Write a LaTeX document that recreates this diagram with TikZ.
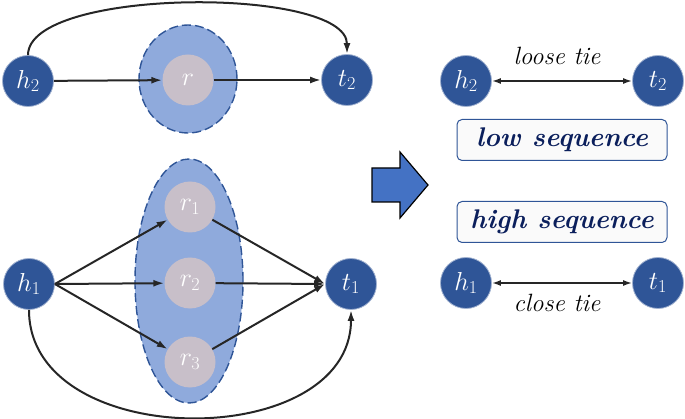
\RequirePackage{fix-cm}
\documentclass[tikz,border=0pt]{standalone}
\usepackage{fontspec}
\usepackage{tikz}
\usetikzlibrary{shapes.geometric,arrows.meta}
\definecolor{entblue}{HTML}{2F5597}
\definecolor{setblue}{HTML}{8FAADC}
\definecolor{relgray}{HTML}{C8BFC9}
\definecolor{arrblue}{HTML}{4472C4}
\definecolor{seqtext}{HTML}{0B1F5C}

\begin{document}
\begin{tikzpicture}[x=1pt,y=1pt,
    ent/.style={circle,fill=entblue,draw=entblue!45,line width=0.8pt,minimum size=51pt,inner sep=0pt,text=white,font=\fontsize{26}{30}\selectfont},
    rel/.style={circle,fill=relgray,minimum size=51pt,inner sep=0pt,text=white,font=\fontsize{26}{30}\selectfont},
    relset/.style={ellipse,fill=setblue,draw=entblue,line width=1.4pt,dash pattern=on 9pt off 4pt,inner sep=0pt},
    link/.style={-{Latex[length=11pt,width=7pt]},line width=2pt,draw=black!85},
    tielink/.style={{Latex[length=9pt,width=6pt]}-{Latex[length=9pt,width=6pt]},line width=1.6pt,draw=black!85},
    seq/.style={rounded corners=5pt,draw=entblue,fill=gray!4,line width=1pt,minimum width=210pt,minimum height=41pt,text=seqtext,font=\fontsize{27}{32}\selectfont\bfseries\itshape},
    tie/.style={font=\fontsize{25}{30}\selectfont\itshape}]
    \useasboundingbox (0,0) rectangle (685,418);

    % low sequence example
    \node[relset,minimum width=98pt,minimum height=108pt] (set2) at (188,339) {};
    \node[ent] (h2) at (28,337) {$h_2$};
    \node[rel] (r) at (188,338) {$r$};
    \node[ent] (t2) at (347,338) {$t_2$};
    \draw[link] (h2) -- (r);
    \draw[link] (r) -- (t2);
    \draw[link] (h2.north) .. controls +(0,68) and +(0,68) .. (t2.north);

    % high sequence example
    \node[relset,minimum width=108pt,minimum height=244pt] (set1) at (189,137) {};
    \node[ent] (h1) at (29,134) {$h_1$};
    \node[rel] (r1) at (190,211) {$r_1$};
    \node[rel] (r2) at (190,135) {$r_2$};
    \node[rel] (r3) at (190,56) {$r_3$};
    \node[ent] (t1) at (351,134) {$t_1$};
    \foreach \i in {1,2,3} {
        \draw[link] (h1.east) -- (r\i);
        \draw[link] (r\i) -- (t1.west);
    }
    \draw[link] (h1.south) .. controls +(0,-143) and +(0,-143) .. (t1.south);

    \filldraw[fill=arrblue,draw=black,line width=1.2pt] (372,250) -- (400,250) -- (400,266) -- (428,233) -- (400,200) -- (400,216) -- (372,216) -- cycle;

    % result
    \node[ent] (h2r) at (466,337) {$h_2$};
    \node[ent] (t2r) at (658,337) {$t_2$};
    \draw[tielink] (h2r) -- (t2r);
    \node[tie] (loose) at (557,362) {loose tie};
    \node[seq] (low) at (562,278) {low sequence};
    \node[seq] (high) at (562,196) {high sequence};
    \node[ent] (h1r) at (466,135) {$h_1$};
    \node[ent] (t1r) at (658,135) {$t_1$};
    \draw[tielink] (h1r) -- (t1r);
    \node[tie] (close) at (557,115) {close tie};
\end{tikzpicture}
\end{document}
